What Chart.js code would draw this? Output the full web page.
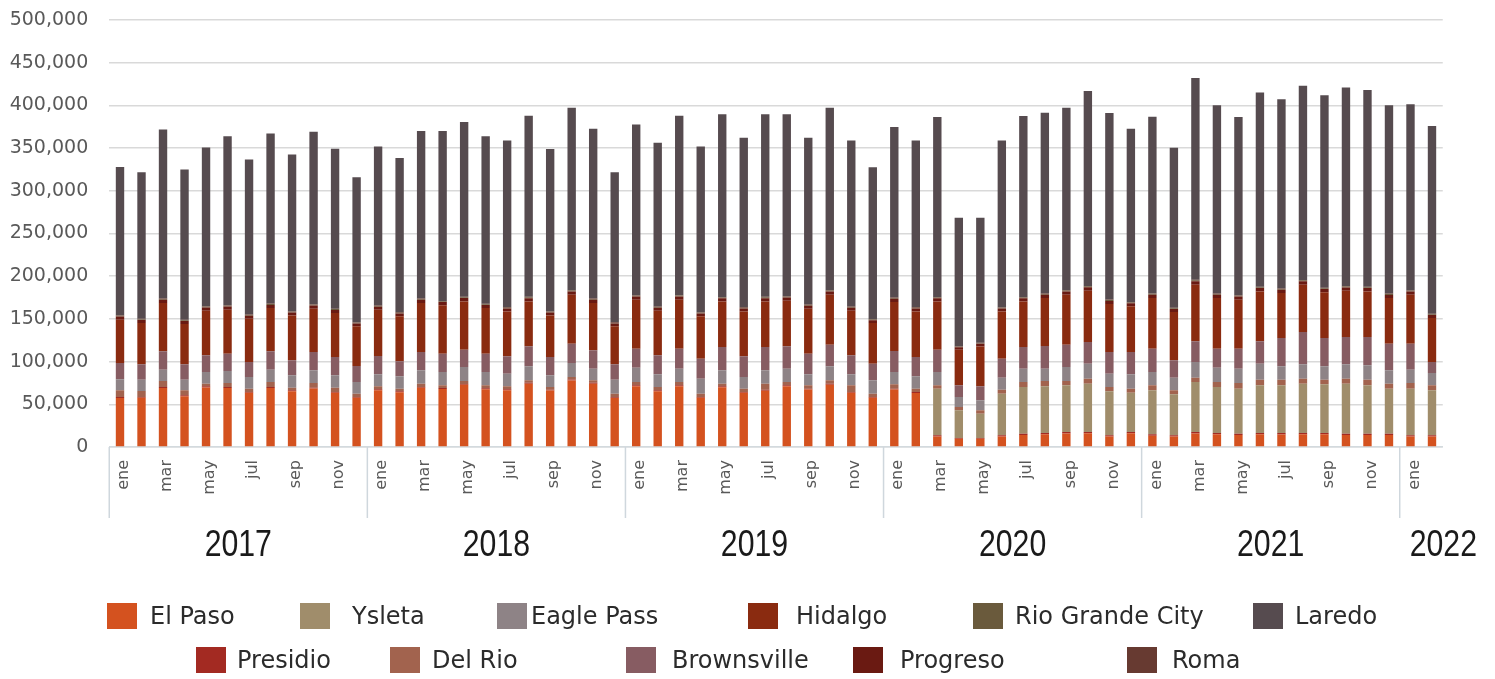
<!DOCTYPE html>
<html>
<head>
<meta charset="utf-8">
<script src="https://cdn.jsdelivr.net/npm/chart.js@4.4.1/dist/chart.umd.min.js"></script>
<style>
  html, body { margin: 0; padding: 0; background: #ffffff; }
  #wrap { position: relative; width: 1495px; height: 679px; overflow: hidden; }
  #c { position: absolute; left: 0; top: 0; }
  .sw { position: absolute; width: 30px; height: 26px; }
  .lt { position: absolute; font-family: "DejaVu Sans", sans-serif; font-size: 24px; line-height: 26px;
        color: #2b2b2b; white-space: nowrap; }
</style>
</head>
<body>
<div id="wrap">
  <canvas id="c" width="1495" height="679"></canvas>
  <div id="legend"></div>
</div>
<script>
// Periods: 2017-ene .. 2022-feb
const years = ['2017', '2018', '2019', '2020', '2021', '2022'];
const monthsPerYear = [12, 12, 12, 12, 12, 2];
const monthNames = ['ene', 'feb', 'mar', 'abr', 'may', 'jun', 'jul', 'ago', 'sep', 'oct', 'nov', 'dic'];
const yTicks = [0, 50000, 100000, 150000, 200000, 250000, 300000, 350000, 400000, 450000, 500000];

// Monthly crossings per port (stack order, bottom to top)
const elPaso = [
  57500, 57600, 69200, 59500, 69800, 69200, 63400, 69100, 65300, 68500, 63400, 57600,
  66500, 64200, 69400, 68000, 72800, 67700, 66400, 74000, 66100, 77800, 74000, 57300,
  71100, 65400, 71000, 57600, 69900, 63400, 65900, 71100, 67300, 73000, 63400, 57600,
  67300, 63300, 12200, 9700, 9600, 12300, 14000, 14900, 15900, 16000, 12200, 16000,
  13300, 12300, 15900, 14800, 14100, 14800, 14700, 14800, 14900, 14000, 14100, 14000,
  12300, 12300
];
const presidio = [
  1000, 900, 1100, 1000, 1200, 1100, 1000, 1200, 1100, 1000, 1000, 900,
  1000, 1100, 1000, 1200, 1100, 1000, 1200, 1100, 1000, 1200, 1100, 900,
  1100, 1000, 1200, 900, 1100, 1000, 1200, 1100, 1000, 1200, 1000, 900,
  1000, 1100, 1500, 800, 900, 1400, 1600, 1500, 1700, 1600, 1500, 1600,
  1500, 1400, 1700, 1600, 1500, 1600, 1700, 1600, 1500, 1600, 1500, 1600,
  1400, 1400
];
const ysleta = [
  0, 0, 0, 0, 0, 0, 0, 0, 0, 0, 0, 0,
  0, 0, 0, 0, 0, 0, 0, 0, 0, 0, 0, 0,
  0, 0, 0, 0, 0, 0, 0, 0, 0, 0, 0, 0,
  0, 0, 54600, 32400, 28500, 48700, 54700, 54600, 54600, 56600, 51500, 46000,
  51600, 48000, 58500, 53900, 52700, 55800, 55800, 57800, 57000, 58600, 56600, 52700,
  54600, 52700
];
const delRio = [
  7900, 7100, 7000, 5900, 3200, 4600, 3900, 5800, 3100, 5400, 5100, 3900,
  3500, 3000, 3800, 3000, 3400, 3500, 3400, 3000, 3200, 3000, 3000, 4200,
  3900, 3900, 3900, 3900, 3200, 3900, 7100, 3900, 3900, 3900, 7800, 3900,
  5100, 3900, 3900, 3900, 3900, 4700, 5800, 6300, 5100, 5800, 5100, 4700,
  5800, 4700, 5100, 5800, 6600, 6600, 6600, 5800, 5400, 5800, 6600, 5900,
  6600, 5800
];
const eaglePass = [
  12800, 13200, 13200, 12400, 13600, 14100, 13700, 14400, 14400, 14900, 14400, 13700,
  14100, 14400, 15600, 15600, 16400, 15600, 14900, 16400, 13600, 16400, 13600, 16400,
  16800, 14800, 15600, 17600, 15600, 13700, 15600, 15600, 12900, 16400, 12900, 15700,
  14400, 14400, 15600, 11700, 11700, 14100, 15600, 14400, 16400, 17600, 15600, 16800,
  15600, 14800, 18300, 16800, 16800, 18800, 15700, 16800, 15700, 16800, 16800, 15600,
  15600, 14400
];
const brownsville = [
  19200, 18000, 21500, 18000, 19500, 20300, 17500, 21500, 17600, 21400, 21500, 18700,
  21500, 17600, 21400, 21500, 20300, 21500, 20300, 23400, 21500, 22600, 21500, 18000,
  22200, 22200, 23400, 23400, 27300, 24200, 27300, 26200, 24200, 25300, 22200, 19500,
  24600, 22700, 26200, 13700, 16400, 22200, 25400, 26600, 26100, 25300, 25300, 26100,
  27300, 20300, 24200, 22200, 23400, 26100, 33100, 37900, 33100, 32000, 33200, 31200,
  30500, 12900
];
const hidalgo = [
  50700, 48400, 56600, 47200, 52300, 51500, 50700, 50700, 52600, 50700, 51500, 46500,
  54200, 52700, 57400, 56600, 56500, 53400, 52600, 52600, 48700, 57300, 55400, 44500,
  57400, 52300, 57400, 49600, 53400, 52600, 53400, 53400, 52600, 58500, 52300, 47600,
  57400, 53400, 56500, 41700, 46800, 55400, 53400, 56100, 58500, 60100, 56200, 53500,
  59300, 56500, 66400, 59300, 57400, 58500, 52700, 55400, 53500, 54200, 53400, 53400,
  57300, 51500
];
const progreso = [
  3600, 3400, 3800, 3500, 3700, 3600, 3400, 3700, 3500, 3800, 3600, 3300,
  3500, 3400, 3700, 3800, 3900, 3600, 3500, 3800, 3400, 3900, 3700, 3200,
  3700, 3500, 3800, 3300, 3600, 3500, 3800, 3700, 3400, 3900, 3500, 3200,
  3800, 3500, 3600, 2900, 3000, 3400, 3700, 3800, 3900, 4000, 3700, 3600,
  3900, 3500, 4100, 3800, 3700, 3900, 3800, 4000, 3800, 3900, 3900, 3700,
  3800, 3500
];
const rioGrandeCity = [
  900, 800, 1000, 900, 900, 1000, 900, 1000, 900, 900, 1000, 800,
  900, 900, 1000, 900, 1000, 900, 900, 1000, 900, 1100, 1000, 800,
  1000, 900, 1000, 900, 1000, 900, 1000, 1000, 900, 1100, 900, 800,
  1000, 900, 1000, 700, 700, 900, 1000, 1100, 1100, 1200, 1000, 1000,
  1100, 900, 1200, 1000, 1000, 1100, 1000, 1100, 1000, 1100, 1100, 1000,
  1000, 900
];
const roma = [
  600, 700, 500, 600, 600, 500, 700, 500, 600, 600, 500, 700,
  600, 700, 500, 500, 400, 600, 600, 500, 700, 400, 500, 800,
  500, 600, 500, 700, 600, 600, 500, 500, 700, 400, 600, 700,
  400, 600, 500, 500, 500, 600, 500, 400, 400, 400, 500, 500,
  400, 600, 500, 500, 500, 400, 500, 400, 500, 400, 400, 500,
  500, 600
];
const laredo = [
  173700, 171700, 197900, 176000, 185800, 197900, 181500, 199100, 183500, 201800, 187300, 169700,
  186100, 180300, 196300, 199000, 204900, 196000, 195200, 212000, 189700, 213500, 199000, 175600,
  199800, 191600, 210000, 193900, 213900, 198300, 213900, 213100, 195200, 213500, 194400, 177600,
  199800, 195200, 210800, 150300, 146400, 195200, 212000, 211600, 213500, 228300, 218600, 202900,
  206900, 187400, 236100, 220600, 208800, 227600, 221700, 227500, 225600, 232600, 230300, 220600,
  217800, 219800
];

// Month label for every bar, year for every bar
const categories = [];
const categoryYears = [];
years.forEach((y, i) => {
  for (let m = 0; m < monthsPerYear[i]; m++) { categories.push(monthNames[m]); categoryYears.push(y); }
});

const series = [
  { name: 'El Paso',         data: elPaso,        color: '#D4521F' },
  { name: 'Presidio',        data: presidio,      color: '#A32A22' },
  { name: 'Ysleta',          data: ysleta,        color: '#A08D6B' },
  { name: 'Del Rio',         data: delRio,        color: '#A2634E' },
  { name: 'Eagle Pass',      data: eaglePass,     color: '#8E8386' },
  { name: 'Brownsville',     data: brownsville,   color: '#875C62' },
  { name: 'Hidalgo',         data: hidalgo,       color: '#8A2B10' },
  { name: 'Progreso',        data: progreso,      color: '#6A1A12' },
  { name: 'Rio Grande City', data: rioGrandeCity, color: '#6A5A3C' },
  { name: 'Roma',            data: roma,          color: '#673A31' },
  { name: 'Laredo',          data: laredo,        color: '#564B4F' }
];

// Year groups under the month labels, with separators between years
const yearGroupPlugin = {
  id: 'yearGroups',
  afterDraw(chart) {
    const xs = chart.scales.x;
    const area = chart.chartArea;
    const ctx = chart.ctx;
    const total = categories.length;
    const base = area.bottom;
    ctx.save();
    ctx.strokeStyle = '#cfd7dd';
    ctx.lineWidth = 1.5;
    let start = 0;
    years.forEach((yr, i) => {
      const first = start;
      const last = start + monthsPerYear[i] - 1;
      const left = first === 0 ? area.left : (xs.getPixelForValue(first - 1) + xs.getPixelForValue(first)) / 2;
      const right = last === total - 1 ? area.right : (xs.getPixelForValue(last) + xs.getPixelForValue(last + 1)) / 2;
      ctx.beginPath();
      ctx.moveTo(left, base);
      ctx.lineTo(left, base + 71);
      ctx.stroke();

      ctx.save();
      ctx.font = '36px "Liberation Sans", sans-serif';
      ctx.fillStyle = '#1a1a1a';
      ctx.textBaseline = 'middle';
      const sx = 0.84;
      const w = ctx.measureText(yr).width * sx;
      let cx = (left + right) / 2;
      if (cx - w / 2 < left + 10) cx = left + 10 + w / 2;
      ctx.translate(cx, base + 99);
      ctx.scale(sx, 1);
      ctx.textAlign = 'center';
      ctx.fillText(yr, 0, 0);
      ctx.restore();
      start += monthsPerYear[i];
    });
    ctx.restore();
  }
};

const chart = new Chart(document.getElementById('c'), {
  type: 'bar',
  data: {
    labels: categories,
    datasets: series.map(s => ({
      label: s.name,
      data: s.data,
      backgroundColor: s.color,
      borderWidth: 0,
      categoryPercentage: 1.0,
      barPercentage: 0.39
    }))
  },
  options: {
    responsive: false,
    animation: false,
    layout: { padding: { left: 0, right: 52.25, top: 20, bottom: 0 } },
    plugins: {
      legend: { display: false },
      tooltip: { enabled: false }
    },
    scales: {
      x: {
        stacked: true,
        grid: { display: false, drawTicks: false },
        border: { display: true, color: '#d3dade', width: 1.5 },
        ticks: {
          autoSkip: false,
          minRotation: 90,
          maxRotation: 90,
          padding: 13,
          labelOffset: 4,
          color: '#595959',
          font: { family: 'DejaVu Sans', size: 16 },
          callback: (value, index) => (index % 2 === 0 ? categories[index] : '')
        },
        afterFit: (scale) => { scale.height = 232; }
      },
      y: {
        stacked: true,
        min: 0,
        max: 500000,
        afterBuildTicks: (scale) => { scale.ticks = yTicks.map(v => ({ value: v })); },
        grid: { color: '#d9d9d9', lineWidth: 1.5, drawTicks: false },
        border: { display: false },
        ticks: {
          padding: 21,
          color: '#595959',
          font: { family: 'DejaVu Sans', size: 19 },
          callback: (v) => Number(v).toLocaleString('en-US')
        },
        afterFit: (scale) => {
          scale.width = 109.25;
          // label gap is horizontal only; keep vertical room to half a label
          scale.paddingTop = 10;
          scale.paddingBottom = 10;
        }
      }
    }
  },
  plugins: [yearGroupPlugin]
});

// Legend laid out in two rows
const legendSlots = {
  'El Paso':         { row: 0, box: 107,  text: 150 },
  'Ysleta':          { row: 0, box: 300,  text: 352 },
  'Eagle Pass':      { row: 0, box: 497,  text: 531 },
  'Hidalgo':         { row: 0, box: 748,  text: 796 },
  'Rio Grande City': { row: 0, box: 973,  text: 1015 },
  'Laredo':          { row: 0, box: 1253, text: 1295 },
  'Presidio':        { row: 1, box: 196,  text: 237 },
  'Del Rio':         { row: 1, box: 390,  text: 432 },
  'Brownsville':     { row: 1, box: 626,  text: 672 },
  'Progreso':        { row: 1, box: 853,  text: 900 },
  'Roma':            { row: 1, box: 1127, text: 1172 }
};
const rowTop = [603, 647];
const legendEl = document.getElementById('legend');
chart.data.datasets.forEach(ds => {
  const slot = legendSlots[ds.label];
  const sw = document.createElement('div');
  sw.className = 'sw';
  sw.style.left = slot.box + 'px';
  sw.style.top = rowTop[slot.row] + 'px';
  sw.style.background = ds.backgroundColor;
  const tx = document.createElement('div');
  tx.className = 'lt';
  tx.style.left = slot.text + 'px';
  tx.style.top = rowTop[slot.row] + 'px';
  tx.textContent = ds.label;
  legendEl.appendChild(sw);
  legendEl.appendChild(tx);
});
</script>
</body>
</html>
